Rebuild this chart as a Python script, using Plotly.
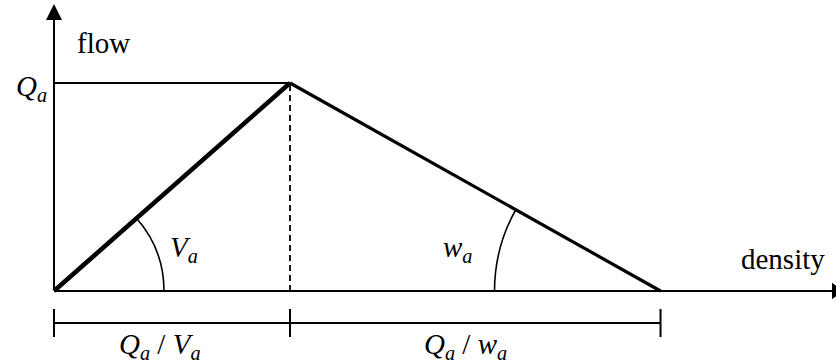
import math

import plotly.graph_objects as go

W, H = 836, 363
FONT = "Liberation Serif, Times New Roman, serif"
INK = "#000000"

# triangular fundamental diagram (flow against density), Q_a = 1 and Q_a / V_a = 1
density = [0.0, 1.0, 2.57]   # origin, critical density, jam density
flow = [0.0, 1.0, 0.0]
span_labels = [
    "<i>Q</i><sub><i>a</i></sub> / <i>V</i><sub><i>a</i></sub>",
    "<i>Q</i><sub><i>a</i></sub> / <i>w</i><sub><i>a</i></sub>",
]
angle_labels = ["<i>V</i><sub><i>a</i></sub>", "<i>w</i><sub><i>a</i></sub>"]
cap_label = "<i>Q</i><sub><i>a</i></sub>"

# ── geometry of the drawing (pixels) ───────────────────────────────────────
ORIGIN_X, ORIGIN_Y = 54, 291
SX, SY = 236, 208            # pixels per unit of density / flow
X_RANGE = [-ORIGIN_X / SX, (W - ORIGIN_X) / SX]
Y_RANGE = [-(H - ORIGIN_Y) / SY, ORIGIN_Y / SY]


def to_data(px, py):
    return (px - ORIGIN_X) / SX, (ORIGIN_Y - py) / SY


def to_px(x, y):
    return ORIGIN_X + x * SX, ORIGIN_Y - y * SY


def arc_path(cx, cy, r, theta, side):
    # circle arc (in screen space) from the sloped line down to the axis
    p0 = to_data(cx + side * r * math.cos(theta), cy - r * math.sin(theta))
    c = to_data(cx + side * r, cy - r * math.tan(theta / 2))
    p2 = to_data(cx + side * r, cy)
    return f"M{p0[0]},{p0[1]} Q{c[0]},{c[1]} {p2[0]},{p2[1]}"


def line(x, y, width, dash="solid"):
    return go.Scatter(x=x, y=y, mode="lines", hoverinfo="skip",
                      line=dict(color=INK, width=width, dash=dash))


fig = go.Figure()

# axes
fig.add_trace(line([0, X_RANGE[1] + 0.1], [0, 0], 2))
tip_x, _ = to_data(835.6, 0)
fig.add_trace(go.Scatter(x=[tip_x], y=[0], mode="markers", cliponaxis=True, hoverinfo="skip",
                         marker=dict(symbol="triangle-right", size=14.5, color=INK)))

# capacity guide + critical density
fig.add_trace(line([0, density[1]], [flow[1], flow[1]], 1.8))
fig.add_trace(line([density[1], density[1]], [0, flow[1]], 1.8, dash="6px,4px"))

# the two branches
fig.add_trace(line(density[:2], flow[:2], 4.6))
fig.add_trace(line(density[1:], flow[1:], 3.2))

# dimension bracket under the axis
_, brk_y = to_data(0, 323)
_, tick_top = to_data(0, 309)
_, tick_bot = to_data(0, 337)
bx, by = [density[0], density[2]], [brk_y, brk_y]
for xv in density:
    bx += [None, xv, xv]
    by += [None, tick_top, tick_bot]
fig.add_trace(line(bx, by, 2))

# angle arcs
ox, oy = to_px(density[0], 0)
kx, ky = to_px(density[2], 0)
th_v = math.atan2(flow[1] * SY, (density[1] - density[0]) * SX)
th_w = math.atan2(flow[1] * SY, (density[2] - density[1]) * SX)
for path in (arc_path(ox, oy, 110, th_v, 1), arc_path(kx, ky, 166, th_w, -1)):
    fig.add_shape(type="path", path=path, xref="x", yref="y",
                  line=dict(color=INK, width=1.6))

# y axis with arrow
_, y_tip = to_data(0, 4)
fig.add_annotation(x=0, y=y_tip, ax=0, ay=0, xref="x", yref="y", axref="x", ayref="y",
                   text="", showarrow=True, arrowhead=2, arrowsize=1.6, arrowwidth=2,
                   arrowcolor=INK)


def label(text, px, py, xanchor="center", size=29):
    fig.add_annotation(x=px / W, y=1 - py / H, xref="paper", yref="paper",
                       text=text, showarrow=False, xanchor=xanchor, yanchor="middle",
                       font=dict(family=FONT, size=size, color=INK))


label("flow", 75, 43, xanchor="left")
label("density", 827, 259, xanchor="right")
label(cap_label, 49, 88, xanchor="right")
label(angle_labels[0], 184, 249)
label(angle_labels[1], 457, 249)
label(span_labels[0], 160, 346)
label(span_labels[1], 465, 346)

fig.update_layout(
    width=W, height=H, margin=dict(l=0, r=0, t=0, b=0),
    paper_bgcolor="white", plot_bgcolor="white", showlegend=False,
    xaxis=dict(range=X_RANGE, visible=False, fixedrange=True),
    yaxis=dict(range=Y_RANGE, visible=False, fixedrange=True),
)

# the page's default body margin would shift the drawing by 8px
fig.write_html("out.html", config={"displayModeBar": False},
               post_script="document.body.style.margin = '0';")
